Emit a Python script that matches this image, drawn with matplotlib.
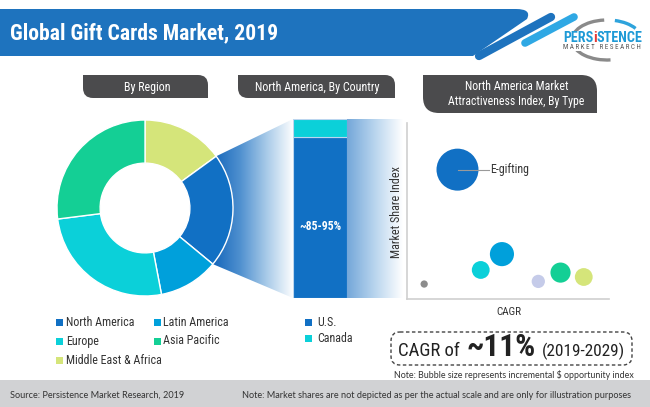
import numpy as np
import matplotlib
matplotlib.use("Agg")
import matplotlib.pyplot as plt
from matplotlib import font_manager
from matplotlib.patches import Rectangle, FancyBboxPatch, PathPatch, Polygon, Arc
from matplotlib.path import Path
from matplotlib.colors import LinearSegmentedColormap

# ---------------- data ----------------
regions = ["North America", "Latin America", "Europe", "Asia Pacific", "Middle East & Africa"]
region_share = [21, 11, 26, 27, 15]
region_colors = ["#1170c4", "#00a0db", "#0bd0d9", "#14cf95", "#d5e57a"]
pie_order = ["Middle East & Africa", "North America", "Latin America", "Europe", "Asia Pacific"]

countries = ["U.S.", "Canada"]
country_share = [90, 10]
country_colors = ["#1170c4", "#0bd0d9"]
us_label = "~85-95%"

bubble_labels = ["E-gifting", "", "", "", "", "", ""]
bubble_cagr = [2.5, 4.7, 3.65, 0.85, 6.5, 7.6, 8.75]
bubble_share = [7.35, 2.55, 1.65, 0.85, 1.0, 1.5, 1.25]
bubble_opportunity = [100, 33, 18, 3, 10, 23, 18]
bubble_colors = ["#1170c4", "#00a0db", "#0bd0d9", "#8c8c8c", "#c5cbe9", "#14cf95", "#d5e57a"]

title = "Global Gift Cards Market, 2019"
cagr_value = "~11%"
cagr_period = "(2019-2029)"

# ---------------- fonts ----------------
ttf = font_manager.fontManager.ttflist
names = {f.name for f in ttf}


def wnum(w):
    if isinstance(w, str):
        try:
            return int(w)
        except ValueError:
            return font_manager.weight_dict.get(w, 400)
    return int(w)


fams = {}
for f in ttf:
    fams.setdefault(f.name, []).append((wnum(f.weight), str(f.stretch), str(f.style)))
pref = ["Roboto Condensed", "Noto Sans Condensed", "Liberation Sans Narrow", "Open Sans Condensed",
        "Noto Sans SemiCondensed", "DejaVu Sans Condensed"]
cond_names = [n for n in fams if ("condensed" in n.lower() or "narrow" in n.lower())]
ordered = [n for n in pref if n in fams] + [n for n in cond_names if n not in pref]


def has_w(n, lo, hi):
    return any(lo <= w <= hi and s == "normal" for w, _, s in fams[n])


COND = next((n for n in ordered if has_w(n, 350, 500)), None)
CONDB = next((n for n in ordered if has_w(n, 600, 800)), None)
BASE = next((n for n in ["Roboto", "DejaVu Sans"] if n in names), "DejaVu Sans")
if COND is None:
    COND = BASE
if CONDB is None:
    CONDB = BASE
BODY = next((n for n in ["Lato", "Open Sans", "DejaVu Sans"] if n in names), "DejaVu Sans")

W, H = 650, 407
fig = plt.figure(figsize=(W / 100, H / 100), dpi=100)
fig.patch.set_facecolor("white")
renderer = fig.canvas.get_renderer()

bg = fig.add_axes([0, 0, 1, 1])
bg.set_xlim(0, W)
bg.set_ylim(H, 0)
bg.axis("off")


def box(x0, y0, x1, y1):
    return [x0 / W, 1 - y1 / H, (x1 - x0) / W, (y1 - y0) / H]


def fit(t, width=None, height=None):
    bb = t.get_window_extent(renderer)
    if width is not None:
        t.set_fontsize(t.get_fontsize() * width / bb.width)
    elif height is not None:
        t.set_fontsize(t.get_fontsize() * height / bb.height)
    return t.get_fontsize()


def put(x, y, s, width=None, size=9, ha="left", va="center", family=None, bold=False, **kw):
    fam = family or (CONDB if bold else COND)
    t = bg.text(x, y, s, fontsize=size, ha=ha, va=va, family=fam,
                fontweight="bold" if bold else "normal", **kw)
    if width:
        fit(t, width=width)
    return t


# ---------------- header ----------------
band = Path([(0, 9), (516, 9), (532, 9), (527, 19), (473, 56), (0, 56), (0, 9)],
            [Path.MOVETO, Path.LINETO, Path.CURVE3, Path.CURVE3, Path.LINETO, Path.LINETO, Path.CLOSEPOLY])
bg.add_patch(PathPatch(band, facecolor="#1e73be", edgecolor="none"))
bg.plot([479, 551], [56, 17], color="#1e73be", lw=6, solid_capstyle="round")
bg.plot([525, 574], [43, 17], color="#2fa8e4", lw=5.5, solid_capstyle="round")
put(10, 33, title, width=267, color="white", bold=True)

# logo
bg.add_patch(Arc((607, 40), 70, 40, theta1=80, theta2=262, color="#8a8a8a", lw=2.4))
bg.add_patch(Arc((607, 40), 70, 40, theta1=292, theta2=338, color="#2ea3dc", lw=2.4))
bg.add_patch(Rectangle((561, 31), 84, 20, facecolor="white", edgecolor="none"))
probe = put(563, 37.5, "PERSISTENCE", width=80, bold=True, color="#1e9ad6")
fs_logo = probe.get_fontsize()
probe.remove()
xx = 563
for piece, col in [("PERS", "#1e9ad6"), ("i", "#e53935"), ("STENCE", "#1e9ad6")]:
    tt = put(xx, 37.5, piece, size=fs_logo, bold=True, color=col)
    xx += tt.get_window_extent(renderer).width
put(563, 47.5, "M A R K E T   R E S E A R C H", width=79, color="#555555")

# ---------------- section tabs ----------------
def tab(x0, y0, x1, y1, r):
    p = Path([(x0, y0), (x1 - r, y0), (x1, y0), (x1, y0 + r), (x1, y1), (x0 + r, y1), (x0, y1),
              (x0, y1 - r), (x0, y0)],
             [Path.MOVETO, Path.LINETO, Path.CURVE3, Path.CURVE3, Path.LINETO, Path.LINETO,
              Path.CURVE3, Path.CURVE3, Path.CLOSEPOLY])
    bg.add_patch(PathPatch(p, facecolor="#4b4b4d", edgecolor="none"))


tab(83, 75, 208, 98, 10)
tab(238, 75, 395, 98, 10)
tab(423, 75, 597, 113, 16)
put(147, 87, "By Region", width=47, ha="center", color="white")
put(317, 87, "North America, By Country", width=125, ha="center", color="white")
put(517, 87, "North America Market", width=104, ha="center", color="white")
put(516, 101, "Attractiveness Index, By Type", width=137, ha="center", color="white")

# ---------------- donut ----------------
cx, cy, R = 145, 208, 88
pie_vals = [region_share[regions.index(n)] for n in pie_order]
pie_cols = [region_colors[regions.index(n)] for n in pie_order]
ax_d = fig.add_axes(box(cx - R, cy - R, cx + R, cy + R))
ax_d.pie(pie_vals, colors=pie_cols, startangle=90, counterclock=False, radius=1,
         wedgeprops=dict(width=0.49, edgecolor="white", linewidth=1.0))
ax_d.set_xlim(-1, 1)
ax_d.set_ylim(-1, 1)
ax_d.patch.set_alpha(0)

# funnel from North America slice to the bar
tot = float(sum(pie_vals))
k = pie_order.index("North America")
a0 = 90 - 360 * sum(pie_vals[:k]) / tot
a1 = 90 - 360 * sum(pie_vals[:k + 1]) / tot
ang = np.radians(np.linspace(a0, a1, 40))
bar_x0, bar_x1, bar_y0, bar_y1 = 293, 347, 119, 298
verts = [(cx + R * np.cos(a), cy - R * np.sin(a)) for a in ang] + [(bar_x0, bar_y1), (bar_x0, bar_y0)]
poly = Polygon(verts, closed=True, facecolor="none", edgecolor="none")
bg.add_patch(poly)
grad = np.linspace(0, 1, 256).reshape(1, -1)
cm1 = LinearSegmentedColormap.from_list("f1", ["#1566bb", "#4f90cf", "#a9cbe9", "#ffffff"])
xmin = min(v[0] for v in verts)
im = bg.imshow(grad, cmap=cm1, extent=(xmin, bar_x0, bar_y1, bar_y0), aspect="auto", zorder=1)
im.set_clip_path(poly)

cm2 = LinearSegmentedColormap.from_list("f2", ["#74a7d9", "#b9d5ee", "#ffffff"])
bg.imshow(grad, cmap=cm2, extent=(bar_x1, 403, bar_y1, bar_y0), aspect="auto", zorder=1)
bg.set_xlim(0, W)
bg.set_ylim(H, 0)

# ---------------- stacked bar ----------------
ax_b = fig.add_axes(box(bar_x0, bar_y0, bar_x1, bar_y1))
bottom = 0
for v, c in zip(country_share, country_colors):
    ax_b.bar([0], [v], bottom=bottom, width=1.0, color=c, edgecolor="#bcd6ef", linewidth=0.8)
    bottom += v
ax_b.set_xlim(-0.5, 0.5)
ax_b.set_ylim(0, sum(country_share))
ax_b.axis("off")
tb = ax_b.text(0, country_share[0] * 0.445, us_label, ha="center", va="center",
               color="white", fontweight="bold", family=CONDB, fontsize=8)
fit(tb, width=42)

# ---------------- bubble chart ----------------
ax_s = fig.add_axes(box(407, 123, 609, 299))
ax_s.patch.set_alpha(0)
ax_s.scatter(bubble_cagr, bubble_share, s=np.array(bubble_opportunity) * 9.14,
             c=bubble_colors, edgecolors="none", zorder=3)
for lab, x, y in zip(bubble_labels, bubble_cagr, bubble_share):
    if lab:
        ax_s.plot([x, x + 1.55], [y, y], color="#9a9a9a", lw=0.8, zorder=4)
        te = ax_s.text(x + 1.62, y, lab, ha="left", va="center", family=COND,
                       fontsize=8, color="#333333")
        fit(te, width=39)
ax_s.set_xlim(0, 10)
ax_s.set_ylim(0, 10)
ax_s.set_xticks([])
ax_s.set_yticks([])
for sp in ["top", "right"]:
    ax_s.spines[sp].set_visible(False)
for sp in ["left", "bottom"]:
    ax_s.spines[sp].set_color("#cfcfcf")
    ax_s.spines[sp].set_linewidth(1.2)
ty = put(397, 212, "Market Share Index", ha="center", rotation=90, color="#333333")
fit(ty, height=93)
put(509, 312, "CAGR", width=25, ha="center", color="#333333")

# ---------------- legends ----------------
probe = put(66, 322, "North America", width=69, color="#333333")
fs_leg = probe.get_fontsize()
probe.remove()
leg_cols = [(56, 66), (154, 163)]
leg_rows = [322, 341, 360]
for i, (n, c) in enumerate(zip(regions, region_colors)):
    mx, tx = leg_cols[i % 2]
    yy = leg_rows[i // 2]
    bg.add_patch(Rectangle((mx, yy - 3.5), 7, 7, facecolor=c, edgecolor="none"))
    put(tx, yy, n, size=fs_leg, color="#333333")
for i, (n, c) in enumerate(zip(countries, country_colors)):
    yy = [322, 338][i]
    bg.add_patch(Rectangle((305, yy - 3.5), 7, 7, facecolor=c, edgecolor="none"))
    put(317, yy, n, size=fs_leg, color="#333333")

# ---------------- CAGR box ----------------
bg.add_patch(FancyBboxPatch((391, 332), 241, 33, boxstyle="round,pad=0,rounding_size=9",
                            facecolor="none", edgecolor="#444444", lw=1.0, linestyle=(0, (2.5, 1.8))))
put(398, 356, "CAGR of", width=62, va="baseline", color="#222222")
put(467, 356, cagr_value, width=69, va="baseline", color="#222222", bold=True)
put(542, 356, cagr_period, width=83, va="baseline", color="#222222")
put(394, 375, "Note: Bubble size represents incremental $ opportunity index", width=242,
    family=BODY, color="#333333")

# ---------------- footer ----------------
bg.add_patch(Rectangle((0, 380), W, 27, facecolor="#d1d2d4", edgecolor="none"))
put(10, 395, "Source: Persistence Market Research, 2019", width=174, family=BODY, color="#333333")
put(242, 395, "Note: Market shares are not depicted as per the actual scale and are only for illustration purposes",
    width=392, family=BODY, color="#333333")

fig.savefig("out.png", dpi=100, facecolor="white")
